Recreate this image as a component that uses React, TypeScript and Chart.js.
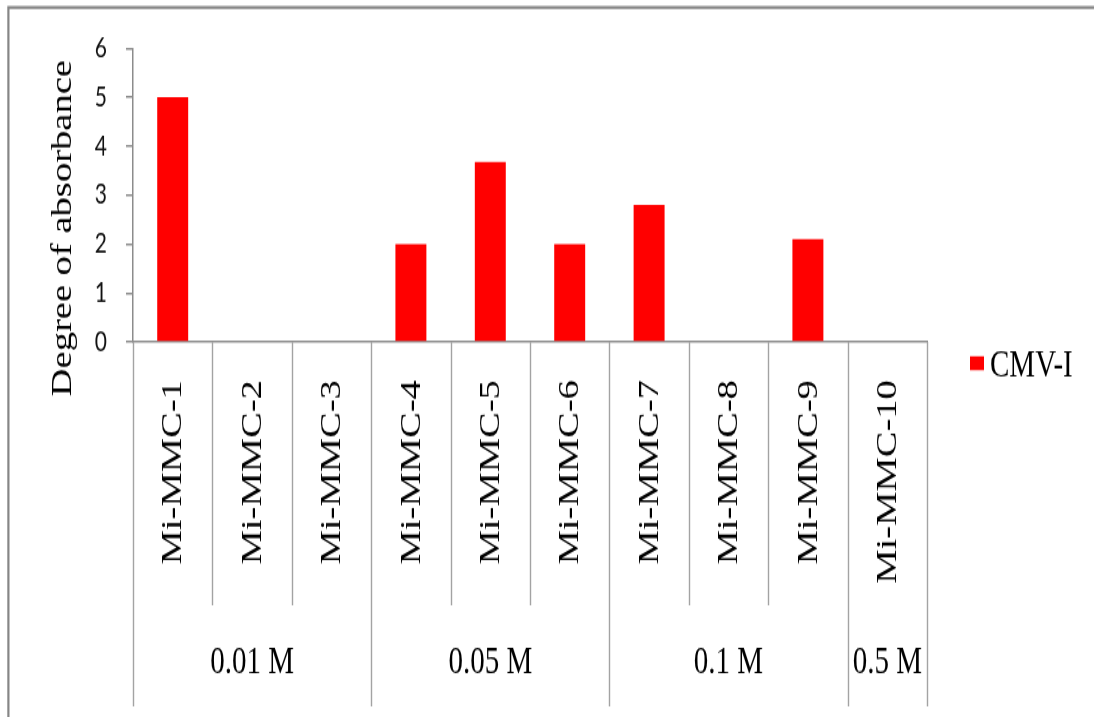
import { useEffect, useRef } from "react";
import { Chart, registerables } from "chart.js";

Chart.register(...registerables);

// ---- data ----
const categories = [
  "Mi-MMC-1",
  "Mi-MMC-2",
  "Mi-MMC-3",
  "Mi-MMC-4",
  "Mi-MMC-5",
  "Mi-MMC-6",
  "Mi-MMC-7",
  "Mi-MMC-8",
  "Mi-MMC-9",
  "Mi-MMC-10",
];
const groupLabels = ["0.01 M", "0.05 M", "0.1 M", "0.5 M"];
const groupSizes = [3, 3, 3, 1];
const seriesName = "CMV-I";
const cmvValues = [5.0, 0, 0, 2.0, 3.68, 2.0, 2.8, 0, 2.1, 0];
const yMin = 0;
const yMax = 6;
const yStep = 1;
const yTitle = "Degree of absorbance";

// ---- layout / style ----
const W = 1094;
const CSS_H = 717;
const STRETCH = 1.33;
const H = Math.round(CSS_H / STRETCH);
const SERIF = "'Liberation Serif', 'Times New Roman', serif";
const SANS = "Lato, 'Open Sans', sans-serif";
const AXIS_GRAY = "#8c8c8c";
const SEP_GRAY = "#a3a3a3";
const BAR_RED = "#ff0000";

const decorPlugin = {
  id: "decor",
  afterDraw(chart: any) {
    const ctx: CanvasRenderingContext2D = chart.ctx;
    const area = chart.chartArea;
    const xs = chart.scales.x;
    const n = categories.length;
    const centers = categories.map((_, i) => xs.getPixelForValue(i));
    const half = (area.right - area.left) / n / 2;
    const bounds: number[] = [];
    for (let i = 0; i <= n; i++) {
      bounds.push(i < n ? centers[i] - half : centers[n - 1] + half);
    }
    const groupStarts = new Set<number>();
    let acc = 0;
    groupStarts.add(0);
    groupSizes.forEach((s) => {
      acc += s;
      groupStarts.add(acc);
    });

    ctx.save();
    // outer frame (top & left)
    ctx.strokeStyle = "#868686";
    ctx.lineWidth = 2.2;
    ctx.beginPath();
    ctx.moveTo(7.5, 5.6);
    ctx.lineTo(W + 5, 5.6);
    ctx.moveTo(8.4, 4.5);
    ctx.lineTo(8.4, H + 5);
    ctx.stroke();

    // category separators
    const innerBottom = 455;
    const groupBottom = 531;
    ctx.strokeStyle = SEP_GRAY;
    ctx.lineWidth = 1.4;
    bounds.forEach((bx, i) => {
      const b = groupStarts.has(i) ? groupBottom : innerBottom;
      const x = Math.round(bx) + 0.5;
      ctx.beginPath();
      ctx.moveTo(x, area.bottom);
      ctx.lineTo(x, b);
      ctx.stroke();
    });

    // category labels (rotated)
    ctx.fillStyle = "#000";
    ctx.font = `29px ${SERIF}`;
    categories.forEach((lab, i) => {
      ctx.save();
      ctx.translate(centers[i] + 1, area.bottom + 28.6);
      ctx.rotate(-Math.PI / 2);
      ctx.textAlign = "right";
      ctx.textBaseline = "middle";
      ctx.fillText(lab, 0, 0);
      ctx.restore();
    });

    // group labels
    let start = 0;
    groupLabels.forEach((g, gi) => {
      const end = start + groupSizes[gi];
      const cx = (bounds[start] + bounds[end]) / 2;
      ctx.textAlign = "center";
      ctx.textBaseline = "middle";
      ctx.fillText(g, cx, 498);
      start = end;
    });

    // y axis title
    ctx.save();
    ctx.translate(63, 171.5);
    ctx.rotate(-Math.PI / 2);
    ctx.textAlign = "center";
    ctx.textBaseline = "middle";
    ctx.font = `29px ${SERIF}`;
    ctx.fillText(yTitle, 0, 0);
    ctx.restore();

    // legend
    ctx.fillStyle = BAR_RED;
    ctx.fillRect(970, 267.8, 14, 10.5);
    ctx.fillStyle = "#000";
    ctx.textAlign = "left";
    ctx.textBaseline = "middle";
    ctx.font = `29px ${SERIF}`;
    ctx.fillText(seriesName, 990, 275.5);
    ctx.restore();
  },
};

export default function App() {
  const ref = useRef<HTMLCanvasElement>(null);
  useEffect(() => {
    if (!ref.current) return;
    const chart = new Chart(ref.current, {
      type: "bar",
      data: {
        labels: categories,
        datasets: [
          {
            label: seriesName,
            data: cmvValues,
            backgroundColor: BAR_RED,
            borderWidth: 0,
            barPercentage: 0.39,
            categoryPercentage: 1,
          },
        ],
      },
      options: {
        animation: false,
        responsive: false,
        maintainAspectRatio: false,
        devicePixelRatio: 1,
        layout: { padding: { top: 36.3, right: 167, left: 0, bottom: 0 } },
        plugins: {
          legend: { display: false },
          tooltip: { enabled: false },
          title: { display: false },
        },
        scales: {
          x: {
            ticks: { display: false },
            grid: { display: false },
            border: { display: true, color: AXIS_GRAY, width: 1.5 },
            afterFit: (s: any) => {
              s.height = H - 257.1;
            },
          },
          y: {
            min: yMin,
            max: yMax,
            ticks: {
              stepSize: yStep,
              color: "#111",
              padding: 19,
              font: { family: SANS, size: 21 },
            },
            grid: {
              display: true,
              drawOnChartArea: false,
              drawTicks: true,
              tickLength: 7,
              color: AXIS_GRAY,
              lineWidth: 1.5,
            },
            border: { display: true, color: AXIS_GRAY, width: 1.5 },
            afterFit: (s: any) => {
              s.width = 133;
            },
          },
        },
      },
      plugins: [decorPlugin],
    });
    return () => chart.destroy();
  }, []);
  return (
    <div
      style={{
        position: "fixed",
        left: 0,
        top: 0,
        width: W,
        height: CSS_H,
        background: "#fff",
      }}
    >
      <canvas
        ref={ref}
        width={W}
        height={H}
        style={{ width: `${W}px`, height: `${CSS_H}px`, display: "block" }}
      />
    </div>
  );
}
